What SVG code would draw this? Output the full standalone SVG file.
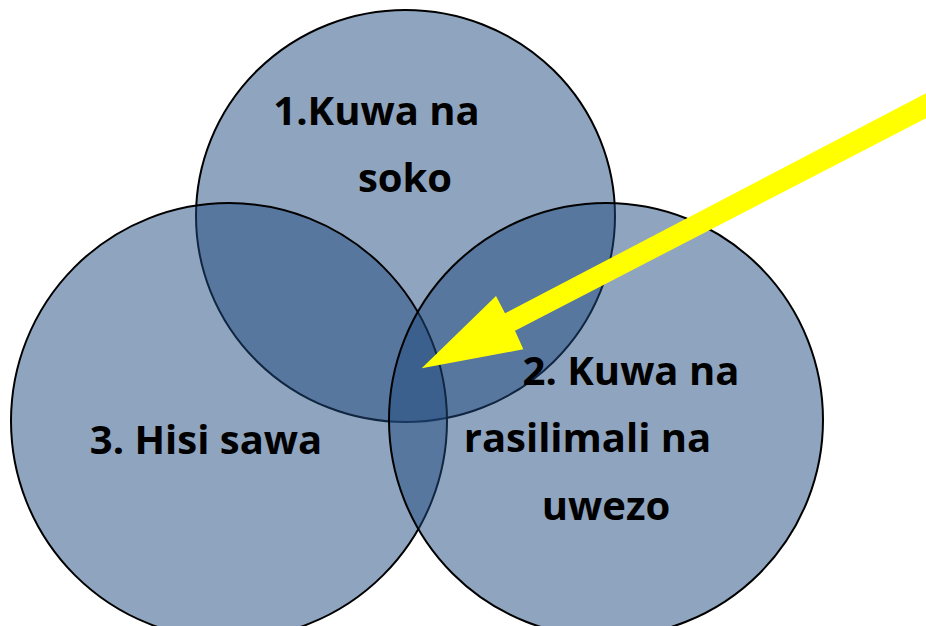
<svg xmlns="http://www.w3.org/2000/svg" width="926" height="626" viewBox="0 0 926 626">
  <style>
    .c { fill: #1F497D; fill-opacity: 0.5; stroke: #000; stroke-width: 2; }
    .t { font-family: "Open Sans", "DejaVu Sans", sans-serif; font-weight: bold; font-size: 40px; fill: #000; text-anchor: middle; }
  </style>
  <rect width="926" height="626" fill="#fff"/>
  <g id="node-1">
    <ellipse class="c" cx="405.5" cy="216" rx="209.5" ry="206"/>
  </g>
  <g id="node-3">
    <circle class="c" cx="229" cy="421" r="218"/>
  </g>
  <g id="node-2">
    <circle class="c" cx="606" cy="420" r="217"/>
  </g>
  <g id="connectors">
    <polygon fill="#FFFF00" points="421.7,368.3 496,296 505,313.3 940,86 940,111 515,330.7 523.3,349.3"/>
  </g>
  <g id="labels">
    <text class="t" x="376.5" y="125">1.Kuwa na</text>
    <text class="t" x="405" y="191.5">soko</text>
    <text class="t" x="206" y="454">3. Hisi sawa</text>
    <text class="t" x="631" y="385">2. Kuwa na</text>
    <text class="t" x="587.5" y="451.5">rasilimali na</text>
    <text class="t" x="606" y="520">uwezo</text>
  </g>
</svg>
